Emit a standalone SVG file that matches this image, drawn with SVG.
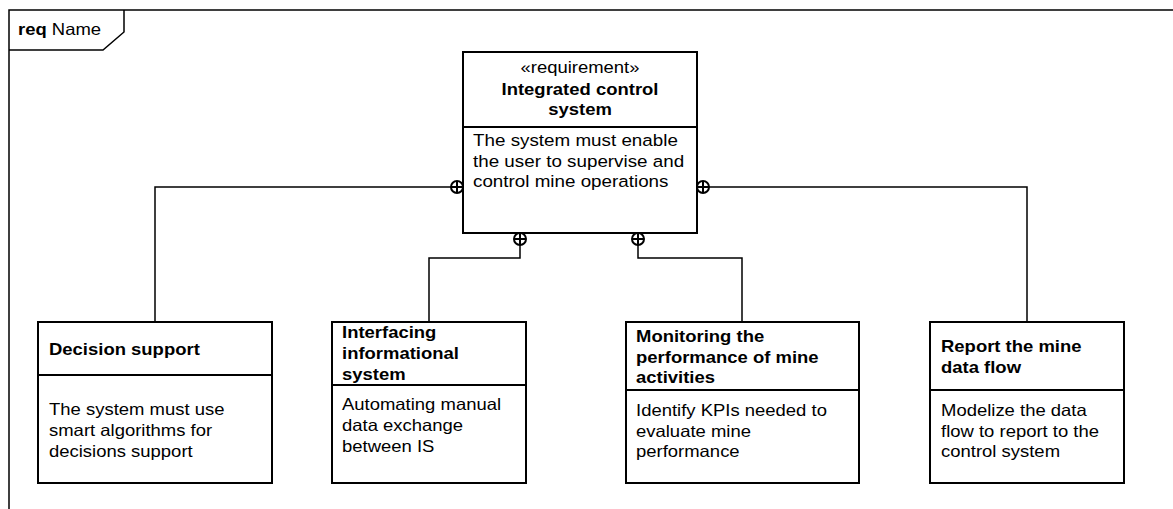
<svg xmlns="http://www.w3.org/2000/svg" width="1173" height="509" viewBox="0 0 1173 509">
  <style>
    text { font-family: "Liberation Sans", Arial, sans-serif; font-size: 16.5px; fill: #000; }
    .b { font-weight: bold; }
    .box { fill: #fff; stroke: #000; stroke-width: 2; }
    .div { stroke: #000; stroke-width: 2; }
    .wire { fill: none; stroke: #000; stroke-width: 1.5; }
    .frame { fill: none; stroke: #000; stroke-width: 1.5; }
  </style>
  <defs>
    <!-- containment end: circle with cross -->
    <g id="contain">
      <circle cx="0" cy="0" r="6" fill="#fff" stroke="#000" stroke-width="2"/>
      <path d="M-6 0H6M0 -6V6" stroke="#000" stroke-width="2"/>
    </g>
  </defs>

  <rect width="1173" height="509" fill="#fff"/>

  <!-- diagram frame -->
  <g id="frame">
    <path class="frame" d="M9 509V10H1173"/>
    <path class="frame" d="M124 10V32L103 50H9"/>
    <text transform="translate(18,35) scale(1.12,1)"><tspan class="b">req</tspan> Name</text>
  </g>

  <!-- connectors -->
  <g id="connectors">
    <path class="wire" d="M452 187H155V322"/>
    <path class="wire" d="M709 187H1027V322"/>
    <path class="wire" d="M520 245V258H429V322"/>
    <path class="wire" d="M638 245V258H742V322"/>
    <use href="#contain" x="457" y="187"/>
    <use href="#contain" x="703" y="187"/>
    <use href="#contain" x="520" y="239"/>
    <use href="#contain" x="638" y="239"/>
  </g>

  <!-- main requirement -->
  <g id="integrated-control-system">
    <rect class="box" x="463" y="52" width="234" height="181"/>
    <line class="div" x1="463" y1="127" x2="697" y2="127"/>
    <text text-anchor="middle" transform="translate(580,73) scale(1.12,1)">«requirement»</text>
    <text class="b" text-anchor="middle" transform="translate(580,95) scale(1.12,1)">Integrated control</text>
    <text class="b" text-anchor="middle" transform="translate(580,115) scale(1.12,1)">system</text>
    <text transform="translate(473,146) scale(1.14,1)">The system must enable</text>
    <text transform="translate(473,167) scale(1.14,1)">the user to supervise and</text>
    <text transform="translate(473,187) scale(1.14,1)">control mine operations</text>
  </g>

  <g id="decision-support">
    <rect class="box" x="38" y="322" width="234" height="161"/>
    <line class="div" x1="38" y1="375" x2="272" y2="375"/>
    <text class="b" transform="translate(49,355) scale(1.12,1)">Decision support</text>
    <text transform="translate(49,415) scale(1.12,1)">The system must use</text>
    <text transform="translate(49,436) scale(1.12,1)">smart algorithms for</text>
    <text transform="translate(49,457) scale(1.12,1)">decisions support</text>
  </g>

  <g id="interfacing-informational-system">
    <rect class="box" x="332" y="322" width="194" height="161"/>
    <line class="div" x1="332" y1="385" x2="526" y2="385"/>
    <text class="b" transform="translate(342,338) scale(1.12,1)">Interfacing</text>
    <text class="b" transform="translate(342,359) scale(1.12,1)">informational</text>
    <text class="b" transform="translate(342,380) scale(1.12,1)">system</text>
    <text transform="translate(342,410) scale(1.12,1)">Automating manual</text>
    <text transform="translate(342,431) scale(1.12,1)">data exchange</text>
    <text transform="translate(342,452) scale(1.12,1)">between IS</text>
  </g>

  <g id="monitoring-performance">
    <rect class="box" x="626" y="322" width="233" height="161"/>
    <line class="div" x1="626" y1="390" x2="859" y2="390"/>
    <text class="b" transform="translate(636,342) scale(1.12,1)">Monitoring the</text>
    <text class="b" transform="translate(636,363) scale(1.12,1)">performance of mine</text>
    <text class="b" transform="translate(636,383) scale(1.12,1)">activities</text>
    <text transform="translate(636,416) scale(1.12,1)">Identify KPIs needed to</text>
    <text transform="translate(636,437) scale(1.12,1)">evaluate mine</text>
    <text transform="translate(636,457) scale(1.12,1)">performance</text>
  </g>

  <g id="report-mine-data-flow">
    <rect class="box" x="930" y="322" width="194" height="161"/>
    <line class="div" x1="930" y1="390" x2="1124" y2="390"/>
    <text class="b" transform="translate(941,352) scale(1.12,1)">Report the mine</text>
    <text class="b" transform="translate(941,373) scale(1.12,1)">data flow</text>
    <text transform="translate(941,416) scale(1.12,1)">Modelize the data</text>
    <text transform="translate(941,437) scale(1.12,1)">flow to report to the</text>
    <text transform="translate(941,457) scale(1.12,1)">control system</text>
  </g>
</svg>
